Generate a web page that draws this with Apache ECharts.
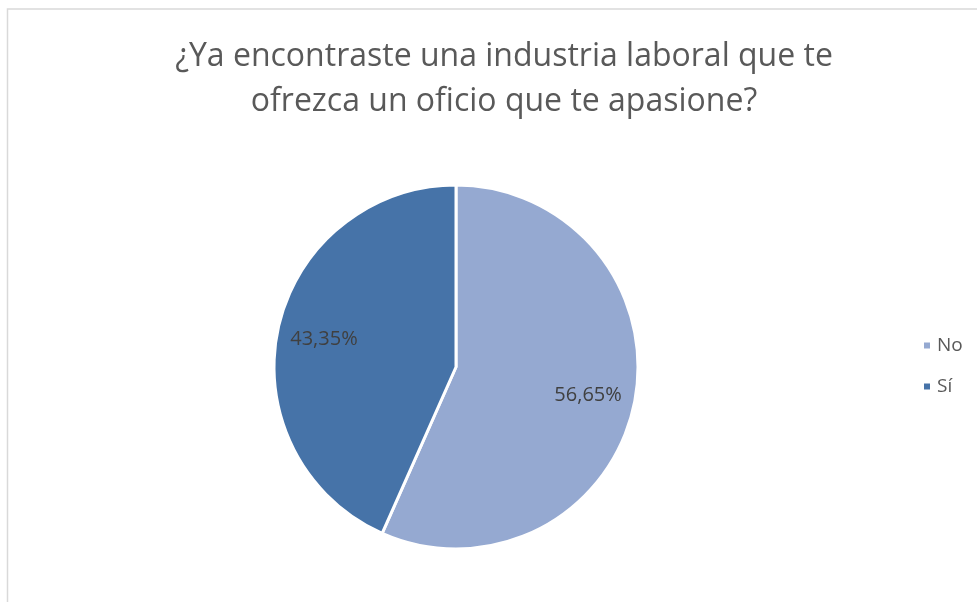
<!DOCTYPE html>
<html><head><meta charset="utf-8">
<script src="https://cdn.jsdelivr.net/npm/echarts@6/dist/echarts.min.js"></script>
<style>html,body{margin:0;padding:0;background:#fff}#c{width:977px;height:602px}</style>
</head><body><div id="c"></div>
<script>
const titleText = "¿Ya encontraste una industria laboral que te\nofrezca un oficio que te apasione?";
const categories = ["No", "Sí"];
const values = [56.65, 43.35];
const colors = ["#95A9D1", "#4673A8"];

const data = categories.map((c, i) => ({ name: c, value: values[i], itemStyle: { color: colors[i] } }));
const fmt = p => p.value.toFixed(2).replace('.', ',') + '%';
const font = "'Open Sans', 'Noto Sans', sans-serif";

const chart = echarts.init(document.getElementById('c'));
chart.setOption({
  animation: false,
  backgroundColor: '#fff',
  graphic: [{ type: 'rect', shape: { x: 7.5, y: 9, width: 1000, height: 700 }, style: { fill: 'none', stroke: '#D9D9D9', lineWidth: 1.5 }, silent: true }],
  title: {
    text: titleText, left: 499, top: 29, textAlign: 'center',
    textStyle: { fontFamily: font, fontSize: 32, fontWeight: 'normal', color: '#595959', lineHeight: 45 }
  },
  legend: {
    orient: 'vertical', left: 917, top: 331, itemWidth: 8, itemHeight: 8, itemGap: 22, icon: 'rect',
    textStyle: { fontFamily: font, fontSize: 19, color: '#595959', padding: [0, 0, 0, 1] },
    data: categories
  },
  series: [{
    type: 'pie', center: [456, 367], radius: [0, 182], startAngle: 90, clockwise: true,
    itemStyle: { borderColor: '#fff', borderWidth: 3 },
    label: { show: false }, labelLine: { show: false }, silent: true,
    data: data
  }, {
    type: 'pie', center: [456, 367], radius: [82, 182], startAngle: 90, clockwise: true,
    itemStyle: { color: 'rgba(0,0,0,0)', borderWidth: 0 },
    label: { show: true, position: 'inside', formatter: fmt, fontFamily: font, fontSize: 20, color: '#404040' },
    labelLine: { show: false }, silent: true,
    data: categories.map((c, i) => ({ name: c, value: values[i], itemStyle: { color: 'rgba(0,0,0,0)' } }))
  }]
});
</script></body></html>
